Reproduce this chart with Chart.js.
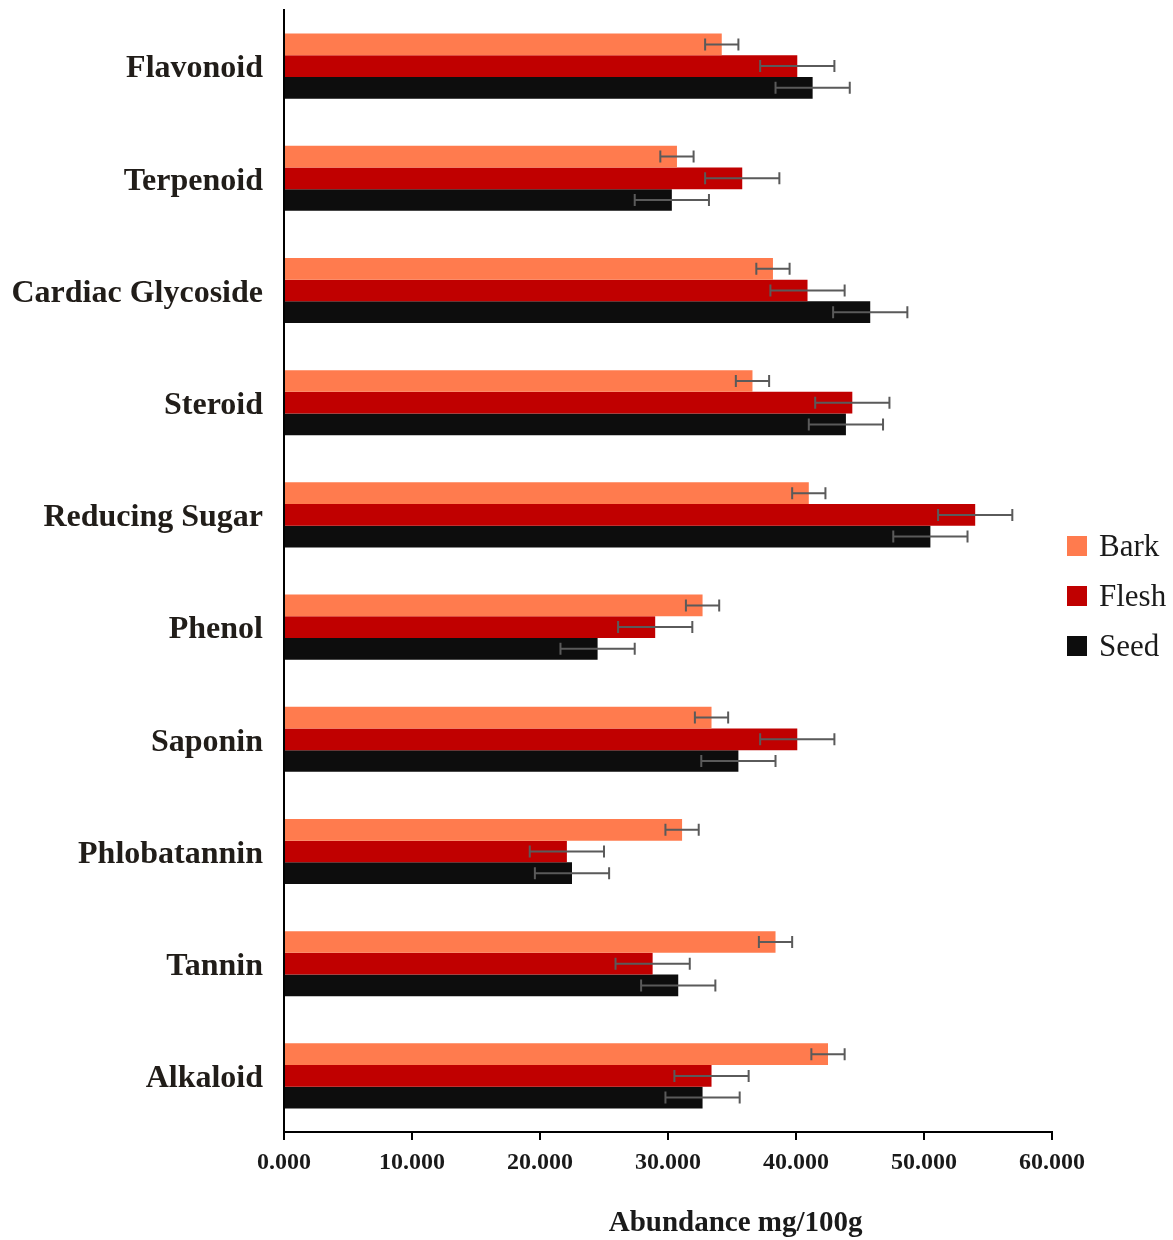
<!DOCTYPE html>
<html>
<head>
<meta charset="utf-8">
<script src="https://cdn.jsdelivr.net/npm/chart.js@4"></script>
<style>
  html, body { margin:0; padding:0; background:#fff; }
  #wrap { width:1173px; height:1240px; position:relative; }
</style>
</head>
<body>
<div id="wrap"><canvas id="abundance_chart" width="1173" height="1240"></canvas></div>
<script>
// 범주와 값 (mg/100g)
const categories = ["Flavonoid", "Terpenoid", "Cardiac Glycoside", "Steroid", "Reducing Sugar",
                    "Phenol", "Saponin", "Phlobatannin", "Tannin", "Alkaloid"];
const seriesNames = ["Bark", "Flesh", "Seed"];
const barkValues  = [34.2, 30.7, 38.2, 36.6, 41.0, 32.7, 33.4, 31.1, 38.4, 42.5];
const fleshValues = [40.1, 35.8, 40.9, 44.4, 54.0, 29.0, 40.1, 22.1, 28.8, 33.4];
const seedValues  = [41.3, 30.3, 45.8, 43.9, 50.5, 24.5, 35.5, 22.5, 30.8, 32.7];
const barkErr  = [1.3, 1.3, 1.3, 1.3, 1.3, 1.3, 1.3, 1.3, 1.3, 1.3];
const fleshErr = [2.9, 2.9, 2.9, 2.9, 2.9, 2.9, 2.9, 2.9, 2.9, 2.9];
const seedErr  = [2.9, 2.9, 2.9, 2.9, 2.9, 2.9, 2.9, 2.9, 2.9, 2.9];
const xTicks = [0, 10, 20, 30, 40, 50, 60];
const xTitle = "Abundance mg/100g";

const colors = ["#FF7B4E", "#C00000", "#0D0D0D"];
const allValues = [barkValues, fleshValues, seedValues];
const allErrors = [barkErr, fleshErr, seedErr];

// 에러바 그리기
const errorBars = {
    id: "errorBars",
    afterDatasetsDraw(chart) {
        const ctx = chart.ctx;
        const xs = chart.scales.x;
        ctx.save();
        ctx.strokeStyle = "#5a5a5a";
        ctx.lineWidth = 2;
        chart.data.datasets.forEach(function(ds, di){
            const meta = chart.getDatasetMeta(di);
            meta.data.forEach(function(bar, i){
                const v = ds.data[i];
                const e = ds.errors[i];
                const x1 = xs.getPixelForValue(v - e);
                const x2 = xs.getPixelForValue(v + e);
                const y = bar.y;
                ctx.beginPath();
                ctx.moveTo(x1, y); ctx.lineTo(x2, y);
                ctx.moveTo(x1, y - 6); ctx.lineTo(x1, y + 6);
                ctx.moveTo(x2, y - 6); ctx.lineTo(x2, y + 6);
                ctx.stroke();
            });
        });
        ctx.restore();
    }
};

// 범례와 축 제목
const extras = {
    id: "extras",
    afterDraw(chart) {
        const ctx = chart.ctx;
        const area = chart.chartArea;
        ctx.save();
        ctx.font = "31px 'Liberation Serif'";
        ctx.textBaseline = "middle";
        ctx.textAlign = "left";
        for (let i = 0; i < seriesNames.length; i++) {
            const cy = 546 + i * 50;
            ctx.fillStyle = colors[i];
            ctx.fillRect(1067, cy - 10, 20, 20);
            ctx.fillStyle = "#1a1a1a";
            ctx.fillText(seriesNames[i], 1099, cy + 2);
        }
        ctx.font = "bold 29px 'Liberation Serif'";
        ctx.textAlign = "center";
        ctx.fillStyle = "#1a1a1a";
        ctx.fillText(xTitle, area.left + area.width * 0.588, 1224);
        ctx.restore();
    }
};

let ctx1 = document.getElementById("abundance_chart");
let abundance_chart = new Chart(ctx1, {
    type: "bar",
    plugins: [errorBars, extras],
    data: {
        labels: categories,
        datasets: seriesNames.map(function(name, i){
            return {
                label: name,
                data: allValues[i],
                errors: allErrors[i],
                backgroundColor: colors[i],
                borderWidth: 0,
                categoryPercentage: 0.58,
                barPercentage: 1.0
            };
        })
    },
    options: {
        indexAxis: "y",
        responsive: false,
        animation: false,
        layout: { padding: { top: 10, right: 121, bottom: 0, left: 0 } },
        plugins: {
            legend: { display: false },
            tooltip: { enabled: false }
        },
        scales: {
            x: {
                min: 0,
                max: 60,
                afterBuildTicks: function(scale){
                    scale.ticks = xTicks.map(function(v){ return { value: v }; });
                },
                afterFit: function(scale){
                    scale.height = 108;
                    scale.paddingLeft = 0;
                    scale.paddingRight = 0;
                },
                grid: {
                    drawOnChartArea: false,
                    drawTicks: true,
                    tickLength: 8,
                    color: "#000",
                    lineWidth: 2
                },
                border: { display: true, color: "#000", width: 2 },
                ticks: {
                    padding: 8,
                    color: "#1a1a1a",
                    font: { family: "'Liberation Serif'", size: 24, weight: "bold" },
                    callback: function(v){ return Number(v).toFixed(3); }
                }
            },
            y: {
                afterFit: function(scale){
                    scale.width = 284;
                    scale.paddingTop = 0;
                    scale.paddingBottom = 0;
                },
                grid: { display: false, drawTicks: false, tickLength: 0 },
                border: { display: true, color: "#000", width: 2 },
                ticks: {
                    padding: 21,
                    labelOffset: 3,
                    color: "#211d19",
                    font: { family: "'Liberation Serif'", size: 32, weight: "bold" }
                }
            }
        }
    }
});
</script>
</body>
</html>
